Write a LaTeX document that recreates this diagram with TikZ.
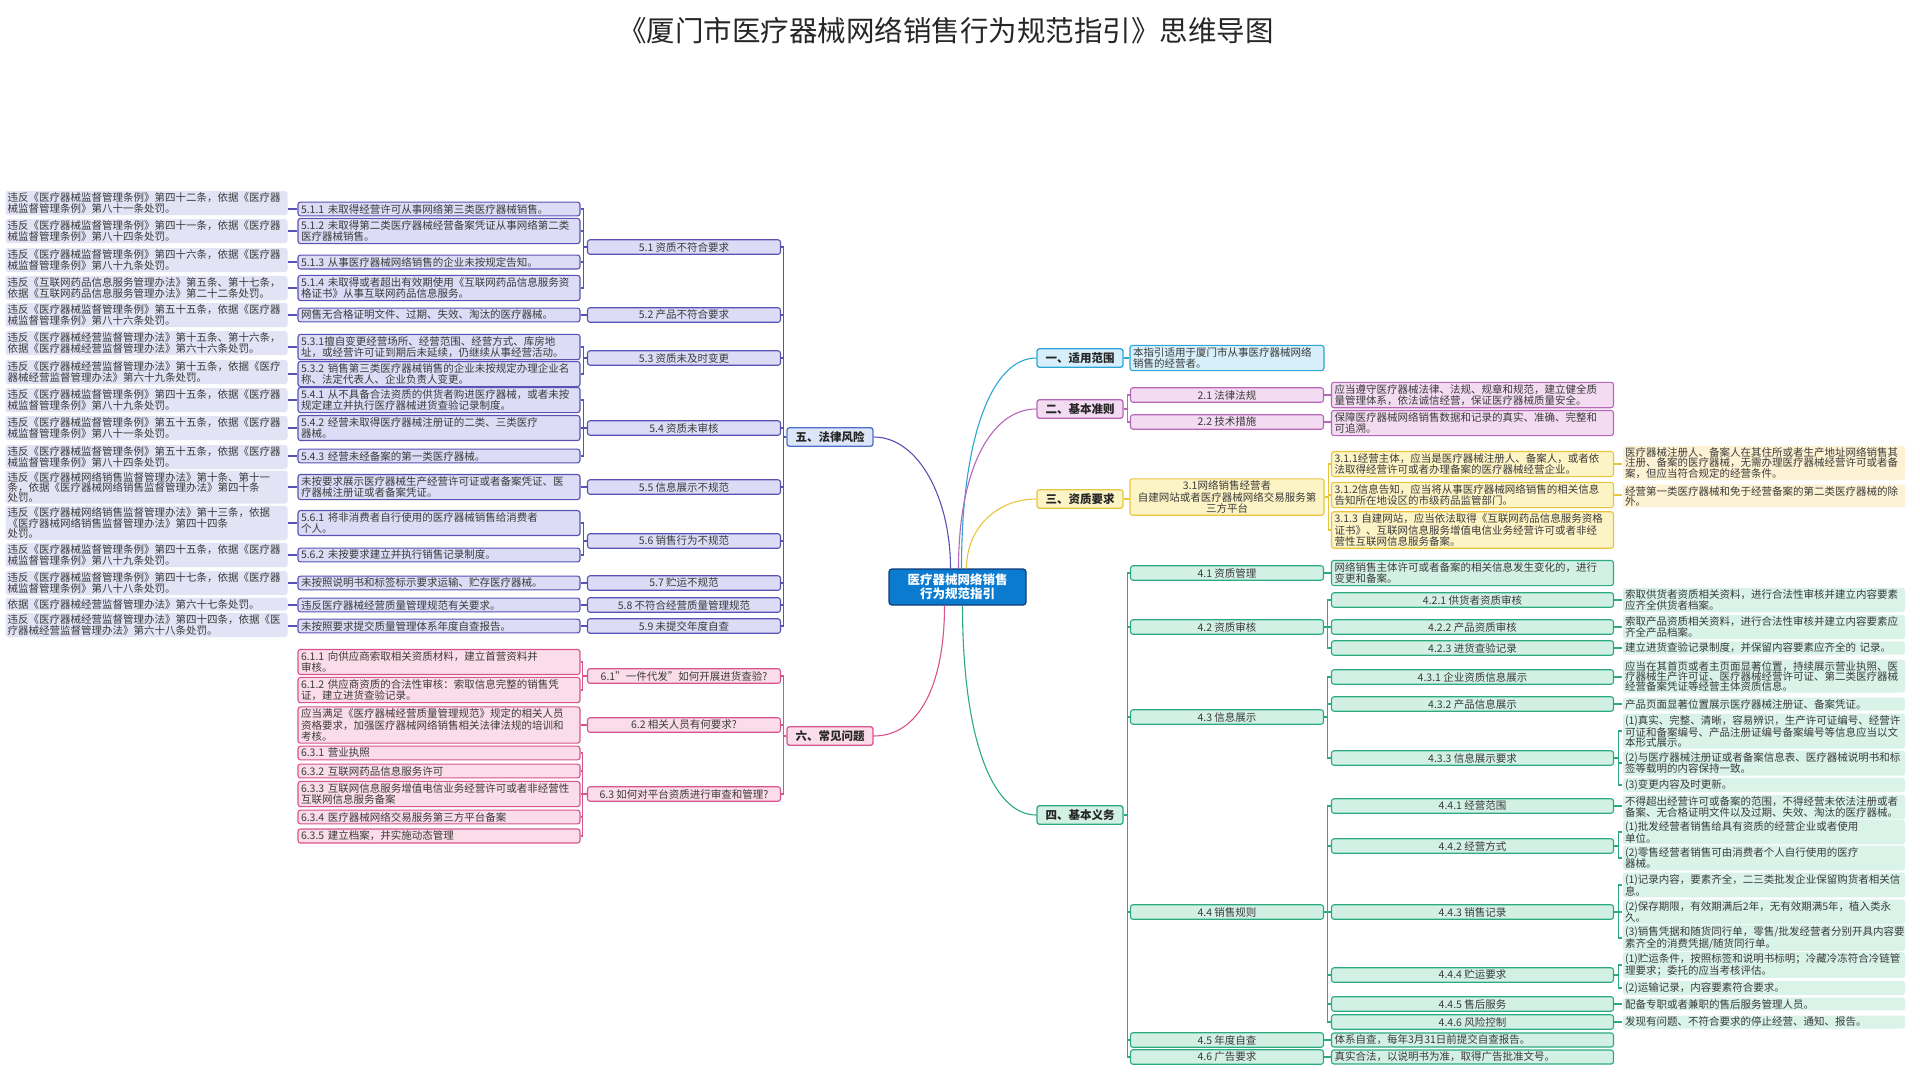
\documentclass[tikz,border=0pt]{standalone}
\usepackage{fontspec}
\setmainfont{Noto Sans CJK SC}
\definecolor{txt}{HTML}{3A3A3A}
\definecolor{rootF}{HTML}{0B7BCF}
\definecolor{rootL}{HTML}{123C7A}
\definecolor{cyaL}{HTML}{2BA6D6}
\definecolor{cyaF}{HTML}{D6EFFA}
\definecolor{purL}{HTML}{B766B8}
\definecolor{purF}{HTML}{F3DCF2}
\definecolor{yelL}{HTML}{E9C53E}
\definecolor{yelF}{HTML}{FDF4C6}
\definecolor{yelP}{HTML}{FDF3D4}
\definecolor{grnL}{HTML}{2DAA80}
\definecolor{grnF}{HTML}{D3F0E4}
\definecolor{grnP}{HTML}{D9F3E9}
\definecolor{indL}{HTML}{5852B4}
\definecolor{indF}{HTML}{DCDCF6}
\definecolor{indP}{HTML}{E3E3F6}
\definecolor{bluL}{HTML}{4C6FCC}
\definecolor{bluF}{HTML}{DDE5F9}
\definecolor{pnkL}{HTML}{D9538C}
\definecolor{pnkF}{HTML}{FBDDE9}
\newcommand\fsz{\fontsize{10.5}{11.3}\selectfont}
\newcommand\fszl{\fontsize{10.5}{10}\selectfont}
\begin{document}
\begin{tikzpicture}[x=1pt,y=-1pt,
    box/.style={rectangle, rounded corners=2.5pt, line width=1.1pt, inner xsep=3pt, inner ysep=2pt, font=\fsz, text=txt},
    mid/.style={box, minimum width=193pt, minimum height=14.5pt, align=center},
    midw/.style={mid, minimum width=282pt},
    tbox/.style={box, text width=276pt, align=left},
    nbox/.style={box, text width=188pt, align=left},
    leaf/.style={box, text width=278pt, inner xsep=2pt, inner ysep=1.6pt, align=left, font=\fszl},
    main/.style={box, minimum width=86pt, minimum height=18.5pt, line width=1.3pt, font=\fontsize{11.5}{13}\selectfont\bfseries, text=black!85},
    lnk/.style={line width=1.1pt},
    cyanbox/.style={draw=cyaL, fill=cyaF},
    purplebox/.style={draw=purL, fill=purF},
    yellowbox/.style={draw=yelL, fill=yelF},
    yellowleaf/.style={fill=yelP},
    greenbox/.style={draw=grnL, fill=grnF},
    greenleaf/.style={fill=grnP},
    indigobox/.style={draw=indL, fill=indF},
    indigoleaf/.style={fill=indP},
    pinkbox/.style={draw=pnkL, fill=pnkF}]
    \fill[white] (0,0) rectangle (1920,1080);
    \useasboundingbox (0,0) rectangle (1920,1080);

    \node[font=\fontsize{28.5}{31}\selectfont, text=black!85] (title) at (946,31) {《厦门市医疗器械网络销售行为规范指引》思维导图};

    \node[rectangle, rounded corners=3pt, draw=rootL, fill=rootF, line width=1.3pt, minimum width=137pt, minimum height=36pt, align=center, text=white, font=\fontsize{12.5}{14}\selectfont\bfseries] (root) at (957.5,587) {医疗器械网络销售\\行为规范指引};

    % right side
    \node[main, cyanbox] (fanwei) at (1080,358) {一、适用范围};
    \node[nbox, cyanbox] (fanweic) at (1227,358) {本指引适用于厦门市从事医疗器械网络\\销售的经营者。};

    \node[main, purplebox] (zhunze) at (1080,409) {二、基本准则};
    \node[mid, purplebox] (z1) at (1227,395) {2.1 法律法规};
    \node[mid, purplebox] (z2) at (1227,422) {2.2 技术措施};
    \node[tbox, purplebox] (z1c) at (1472.5,395) {应当遵守医疗器械法律、法规、规章和规范，建立健全质\\量管理体系，依法诚信经营，保证医疗器械质量安全。};
    \node[tbox, purplebox] (z2c) at (1472.5,423) {保障医疗器械网络销售数据和记录的真实、准确、完整和\\可追溯。};

    \node[main, yellowbox] (zizhi) at (1080,499) {三、资质要求};
    \node[box, yellowbox, text width=188pt, align=center] (q1) at (1227,497) {3.1网络销售经营者\\自建网站或者医疗器械网络交易服务第\\三方平台};
    \node[tbox, yellowbox] (q11) at (1472.5,464) {3.1.1经营主体，应当是医疗器械注册人、备案人，或者依\\法取得经营许可或者办理备案的医疗器械经营企业。};
    \node[tbox, yellowbox] (q12) at (1472.5,495) {3.1.2信息告知，应当将从事医疗器械网络销售的相关信息\\告知所在地设区的市级药品监管部门。};
    \node[tbox, yellowbox] (q13) at (1472.5,530) {3.1.3 自建网站，应当依法取得《互联网药品信息服务资格\\证书》、互联网信息服务增值电信业务经营许可或者非经\\营性互联网信息服务备案。};
    \node[leaf, yellowleaf] (q11c) at (1764,463) {医疗器械注册人、备案人在其住所或者生产地址网络销售其\\注册、备案的医疗器械，无需办理医疗器械经营许可或者备\\案，但应当符合规定的经营条件。};
    \node[leaf, yellowleaf] (q12c) at (1764,496) {经营第一类医疗器械和免于经营备案的第二类医疗器械的除\\外。};

    \node[main, greenbox] (yiwu) at (1080,815) {四、基本义务};
    \node[mid, greenbox] (y1) at (1227,573) {4.1 资质管理};
    \node[mid, greenbox] (y2) at (1227,627) {4.2 资质审核};
    \node[mid, greenbox] (y3) at (1227,717) {4.3 信息展示};
    \node[mid, greenbox] (y4) at (1227,912) {4.4 销售规则};
    \node[mid, greenbox] (y5) at (1227,1040) {4.5 年度自查};
    \node[mid, greenbox] (y6) at (1227,1057) {4.6 广告要求};
    \node[tbox, greenbox] (y1c) at (1472.5,573) {网络销售主体许可或者备案的相关信息发生变化的，进行\\变更和备案。};
    \node[midw, greenbox] (y21) at (1472.5,600) {4.2.1 供货者资质审核};
    \node[midw, greenbox] (y22) at (1472.5,627) {4.2.2 产品资质审核};
    \node[midw, greenbox] (y23) at (1472.5,648) {4.2.3 进货查验记录};
    \node[midw, greenbox] (y31) at (1472.5,677) {4.3.1 企业资质信息展示};
    \node[midw, greenbox] (y32) at (1472.5,704) {4.3.2 产品信息展示};
    \node[midw, greenbox] (y33) at (1472.5,758) {4.3.3 信息展示要求};
    \node[midw, greenbox] (y41) at (1472.5,806) {4.4.1 经营范围};
    \node[midw, greenbox] (y42) at (1472.5,846) {4.4.2 经营方式};
    \node[midw, greenbox] (y43) at (1472.5,912) {4.4.3 销售记录};
    \node[midw, greenbox] (y44) at (1472.5,975) {4.4.4 贮运要求};
    \node[midw, greenbox] (y45) at (1472.5,1004) {4.4.5 售后服务};
    \node[midw, greenbox] (y46) at (1472.5,1022) {4.4.6 风险控制};
    \node[tbox, greenbox] (y5c) at (1472.5,1040) {体系自查，每年3月31日前提交自查报告。};
    \node[tbox, greenbox] (y6c) at (1472.5,1057) {真实合法，以说明书为准，取得广告批准文号。};

    \node[leaf, greenleaf] (y21c) at (1764,600) {索取供货者资质相关资料，进行合法性审核并建立内容要素\\应齐全供货者档案。};
    \node[leaf, greenleaf] (y22c) at (1764,627) {索取产品资质相关资料，进行合法性审核并建立内容要素应\\齐全产品档案。};
    \node[leaf, greenleaf] (y23c) at (1764,648) {建立进货查验记录制度，并保留内容要素应齐全的 记录。};
    \node[leaf, greenleaf] (y31c) at (1764,676) {应当在其首页或者主页面显著位置，持续展示营业执照、医\\疗器械生产许可证、医疗器械经营许可证、第二类医疗器械\\经营备案凭证等经营主体资质信息。};
    \node[leaf, greenleaf] (y32c) at (1764,704) {产品页面显著位置展示医疗器械注册证、备案凭证。};
    \node[leaf, greenleaf] (y33a) at (1764,731) {(1)真实、完整、清晰，容易辨识，生产许可证编号、经营许\\可证和备案编号、产品注册证编号备案编号等信息应当以文\\本形式展示。};
    \node[leaf, greenleaf] (y33b) at (1764,763) {(2)与医疗器械注册证或者备案信息表、医疗器械说明书和标\\签等载明的内容保持一致。};
    \node[leaf, greenleaf] (y33c) at (1764,785) {(3)变更内容及时更新。};
    \node[leaf, greenleaf] (y41c) at (1764,807) {不得超出经营许可或备案的范围，不得经营未依法注册或者\\备案、无合格证明文件以及过期、失效、淘汰的医疗器械。};
    \node[leaf, greenleaf] (y42a) at (1764,832) {(1)批发经营者销售给具有资质的经营企业或者使用\\单位。};
    \node[leaf, greenleaf] (y42b) at (1764,858) {(2)零售经营者销售可由消费者个人自行使用的医疗\\器械。};
    \node[leaf, greenleaf] (y43a) at (1764,885) {(1)记录内容，要素齐全，二三类批发企业保留购货者相关信\\息。};
    \node[leaf, greenleaf] (y43b) at (1764,912) {(2)保存期限，有效期满后2年，无有效期满5年，植入类永\\久。};
    \node[leaf, greenleaf] (y43c) at (1764,938) {(3)销售凭据和随货同行单，零售/批发经营者分别开具内容要\\素齐全的消费凭据/随货同行单。};
    \node[leaf, greenleaf] (y44a) at (1764,965) {(1)贮运条件，按照标签和说明书标明；冷藏冷冻符合冷链管\\理要求；委托的应当考核评估。};
    \node[leaf, greenleaf] (y44b) at (1764,988) {(2)运输记录，内容要素符合要求。};
    \node[leaf, greenleaf] (y45c) at (1764,1004) {配备专职或者兼职的售后服务管理人员。};
    \node[leaf, greenleaf] (y46c) at (1764,1022) {发现有问题、不符合要求的停止经营、通知、报告。};

    % left side
    \node[main, draw=bluL, fill=bluF] (fengxian) at (830,437) {五、法律风险};
    \node[mid, indigobox] (f1) at (684,247) {5.1 资质不符合要求};
    \node[mid, indigobox] (f2) at (684,315) {5.2 产品不符合要求};
    \node[mid, indigobox] (f3) at (684,358) {5.3 资质未及时变更};
    \node[mid, indigobox] (f4) at (684,428) {5.4 资质未审核};
    \node[mid, indigobox] (f5) at (684,487) {5.5 信息展示不规范};
    \node[mid, indigobox] (f6) at (684,541) {5.6 销售行为不规范};
    \node[mid, indigobox] (f7) at (684,583) {5.7 贮运不规范};
    \node[mid, indigobox] (f8) at (684,605) {5.8 不符合经营质量管理规范};
    \node[mid, indigobox] (f9) at (684,626) {5.9 未提交年度自查};

    \node[tbox, indigobox] (f11) at (439,209) {5.1.1 未取得经营许可从事网络第三类医疗器械销售。};
    \node[tbox, indigobox] (f12) at (439,231) {5.1.2 未取得第二类医疗器械经营备案凭证从事网络第二类\\医疗器械销售。};
    \node[tbox, indigobox] (f13) at (439,262) {5.1.3 从事医疗器械网络销售的企业未按规定告知。};
    \node[tbox, indigobox] (f14) at (439,288) {5.1.4 未取得或者超出有效期使用《互联网药品信息服务资\\格证书》从事互联网药品信息服务。};
    \node[tbox, indigobox] (f2c) at (439,315) {网售无合格证明文件、过期、失效、淘汰的医疗器械。};
    \node[tbox, indigobox] (f31) at (439,347) {5.3.1擅自变更经营场所、经营范围、经营方式、库房地\\址，或经营许可证到期后未延续，仍继续从事经营活动。};
    \node[tbox, indigobox] (f32) at (439,374) {5.3.2 销售第三类医疗器械销售的企业未按规定办理企业名\\称、法定代表人、企业负责人变更。};
    \node[tbox, indigobox] (f41) at (439,400) {5.4.1 从不具备合法资质的供货者购进医疗器械，或者未按\\规定建立并执行医疗器械进货查验记录制度。};
    \node[tbox, indigobox] (f42) at (439,428) {5.4.2 经营未取得医疗器械注册证的二类、三类医疗\\器械。};
    \node[tbox, indigobox] (f43) at (439,456) {5.4.3 经营未经备案的第一类医疗器械。};
    \node[tbox, indigobox] (f5c) at (439,487) {未按要求展示医疗器械生产经营许可证或者备案凭证、医\\疗器械注册证或者备案凭证。};
    \node[tbox, indigobox] (f61) at (439,523) {5.6.1 将非消费者自行使用的医疗器械销售给消费者\\个人。};
    \node[tbox, indigobox] (f62) at (439,555) {5.6.2 未按要求建立并执行销售记录制度。};
    \node[tbox, indigobox] (f7c) at (439,583) {未按照说明书和标签标示要求运输、贮存医疗器械。};
    \node[tbox, indigobox] (f8c) at (439,605) {违反医疗器械经营质量管理规范有关要求。};
    \node[tbox, indigobox] (f9c) at (439,626) {未按照要求提交质量管理体系年度自查报告。};

    \node[leaf, indigoleaf] (p11) at (146.5,203) {违反《医疗器械监督管理条例》第四十二条，依据《医疗器\\械监督管理条例》第八十一条处罚。};
    \node[leaf, indigoleaf] (p12) at (146.5,231) {违反《医疗器械监督管理条例》第四十一条，依据《医疗器\\械监督管理条例》第八十四条处罚。};
    \node[leaf, indigoleaf] (p13) at (146.5,260) {违反《医疗器械监督管理条例》第四十六条，依据《医疗器\\械监督管理条例》第八十九条处罚。};
    \node[leaf, indigoleaf] (p14) at (146.5,288) {违反《互联网药品信息服务管理办法》第五条、第十七条，\\依据《互联网药品信息服务管理办法》第二十二条处罚。};
    \node[leaf, indigoleaf] (p2) at (146.5,315) {违反《医疗器械监督管理条例》第五十五条，依据《医疗器\\械监督管理条例》第八十六条处罚。};
    \node[leaf, indigoleaf] (p31) at (146.5,343) {违反《医疗器械经营监督管理办法》第十五条、第十六条，\\依据《医疗器械经营监督管理办法》第六十六条处罚。};
    \node[leaf, indigoleaf] (p32) at (146.5,372) {违反《医疗器械经营监督管理办法》第十五条，依据《医疗\\器械经营监督管理办法》第六十九条处罚。};
    \node[leaf, indigoleaf] (p41) at (146.5,400) {违反《医疗器械监督管理条例》第四十五条，依据《医疗器\\械监督管理条例》第八十九条处罚。};
    \node[leaf, indigoleaf] (p42) at (146.5,428) {违反《医疗器械监督管理条例》第五十五条，依据《医疗器\\械监督管理条例》第八十一条处罚。};
    \node[leaf, indigoleaf] (p43) at (146.5,457) {违反《医疗器械监督管理条例》第五十五条，依据《医疗器\\械监督管理条例》第八十四条处罚。};
    \node[leaf, indigoleaf] (p5) at (146.5,487) {违反《医疗器械网络销售监督管理办法》第十条、第十一\\条，依据《医疗器械网络销售监督管理办法》第四十条\\处罚。};
    \node[leaf, indigoleaf] (p61) at (146.5,523) {违反《医疗器械网络销售监督管理办法》第十三条，依据\\《医疗器械网络销售监督管理办法》第四十四条\\处罚。};
    \node[leaf, indigoleaf] (p62) at (146.5,555) {违反《医疗器械监督管理条例》第四十五条，依据《医疗器\\械监督管理条例》第八十九条处罚。};
    \node[leaf, indigoleaf] (p7) at (146.5,583) {违反《医疗器械监督管理条例》第四十七条，依据《医疗器\\械监督管理条例》第八十八条处罚。};
    \node[leaf, indigoleaf] (p8) at (146.5,604) {依据《医疗器械经营监督管理办法》第六十七条处罚。};
    \node[leaf, indigoleaf] (p9) at (146.5,625) {违反《医疗器械经营监督管理办法》第四十四条，依据《医\\疗器械经营监督管理办法》第六十八条处罚。};

    \node[main, pinkbox] (wenti) at (830,736) {六、常见问题};
    \node[mid, pinkbox] (w1) at (684,676) {6.1"一件代发"如何开展进货查验?};
    \node[mid, pinkbox] (w2) at (684,725) {6.2 相关人员有何要求?};
    \node[mid, pinkbox] (w3) at (684,794) {6.3 如何对平台资质进行审查和管理?};
    \node[tbox, pinkbox] (w11) at (439,662) {6.1.1 向供应商索取相关资质材料，建立首营资料并\\审核。};
    \node[tbox, pinkbox] (w12) at (439,690) {6.1.2 供应商资质的合法性审核：索取信息完整的销售凭\\证，建立进货查验记录。};
    \node[tbox, pinkbox] (w2c) at (439,725) {应当满足《医疗器械经营质量管理规范》规定的相关人员\\资格要求，加强医疗器械网络销售相关法律法规的培训和\\考核。};
    \node[tbox, pinkbox] (w31) at (439,753) {6.3.1 营业执照};
    \node[tbox, pinkbox] (w32) at (439,771) {6.3.2 互联网药品信息服务许可};
    \node[tbox, pinkbox] (w33) at (439,794) {6.3.3 互联网信息服务增值电信业务经营许可或者非经营性\\互联网信息服务备案};
    \node[tbox, pinkbox] (w34) at (439,817) {6.3.4 医疗器械网络交易服务第三方平台备案};
    \node[tbox, pinkbox] (w35) at (439,836) {6.3.5 建立档案，并实施动态管理};

    % curves from the root
    \draw[lnk, cyaL] ([xshift=4pt]root.north) .. controls +(0,-130) and +(-45,0) .. (fanwei.west);
    \draw[lnk, purL] ([xshift=1pt]root.north) .. controls +(0,-100) and +(-45,0) .. (zhunze.west);
    \draw[lnk, yelL] ([xshift=9pt]root.north) .. controls +(0,-40) and +(-40,0) .. (zizhi.west);
    \draw[lnk, grnL] ([xshift=5pt]root.south) .. controls +(0,130) and +(-45,0) .. (yiwu.west);
    \draw[lnk, indL] ([xshift=-7pt]root.north) .. controls +(0,-70) and +(45,0) .. (fengxian.east);
    \draw[lnk, pnkL] ([xshift=-13pt]root.south) .. controls +(0,80) and +(45,0) .. (wenti.east);

    % brackets, right
    \draw[lnk, cyaL] (fanwei.east) -- (fanwei.east -| fanweic.west);
    \foreach \c in {z1,z2}
        \draw[lnk, purL] (zhunze.east) -- ++(3.5,0) |- (\c.west);
    \draw[lnk, purL] (z1.east) -- (z1.east -| z1c.west);
    \draw[lnk, purL] (z2.east) -- (z2.east -| z2c.west);
    \draw[lnk, yelL] (zizhi.east) -- (zizhi.east -| q1.west);
    \foreach \c in {q11,q12,q13}
        \draw[lnk, yelL] (q1.east) -- ++(3.5,0) |- (\c.west);
    \foreach \c/\l in {q11/q11c,q12/q12c}
        \draw[lnk, yelL] (\c.east) -- (\c.east -| \l.west);

    \foreach \c in {y1,y2,y3,y4,y5,y6}
        \draw[lnk, grnL] (yiwu.east) -- ++(3.5,0) |- (\c.west);
    \foreach \p/\c in {y2/y21,y2/y22,y2/y23,y3/y31,y3/y32,y3/y33,y4/y41,y4/y42,y4/y43,y4/y44,y4/y45,y4/y46}
        \draw[lnk, grnL] (\p.east) -- ++(3.5,0) |- (\c.west);
    \foreach \p/\c in {y1/y1c,y5/y5c,y6/y6c}
        \draw[lnk, grnL] (\p.east) -- (\p.east -| \c.west);
    \foreach \p/\c in {y33/y33a,y33/y33b,y33/y33c,y42/y42a,y42/y42b,y43/y43a,y43/y43b,y43/y43c,y44/y44a,y44/y44b}
        \draw[lnk, grnL] (\p.east) -- ++(4,0) |- (\c.west);
    \foreach \p/\c in {y21/y21c,y22/y22c,y23/y23c,y31/y31c,y32/y32c,y41/y41c,y45/y45c,y46/y46c}
        \draw[lnk, grnL] (\p.east) -- (\p.east -| \c.west);

    % brackets, left
    \foreach \c in {f1,f2,f3,f4,f5,f6,f7,f8,f9}
        \draw[lnk, indL] (fengxian.west) -- ++(-3.25,0) |- (\c.east);
    \foreach \p/\c in {f1/f11,f1/f12,f1/f13,f1/f14,f3/f31,f3/f32,f4/f41,f4/f42,f4/f43,f6/f61,f6/f62}
        \draw[lnk, indL] (\p.west) -- ++(-3.5,0) |- (\c.east);
    \foreach \p/\c in {f2/f2c,f5/f5c,f7/f7c,f8/f8c,f9/f9c}
        \draw[lnk, indL] (\p.west) -- (\p.west -| \c.east);
    \foreach \c/\l in {f11/p11,f12/p12,f13/p13,f14/p14,f2c/p2,f31/p31,f32/p32,f41/p41,f42/p42,f43/p43,f5c/p5,f61/p61,f62/p62,f7c/p7,f8c/p8,f9c/p9}
        \draw[lnk, indL] (\c.west) -- (\c.west -| \l.east);

    \foreach \c in {w1,w2,w3}
        \draw[lnk, pnkL] (wenti.west) -- ++(-3.25,0) |- (\c.east);
    \foreach \p/\c in {w1/w11,w1/w12,w3/w31,w3/w32,w3/w33,w3/w34,w3/w35}
        \draw[lnk, pnkL] (\p.west) -- ++(-4.5,0) |- (\c.east);
    \draw[lnk, pnkL] (w2.west) -- (w2.west -| w2c.east);
\end{tikzpicture}
\end{document}
